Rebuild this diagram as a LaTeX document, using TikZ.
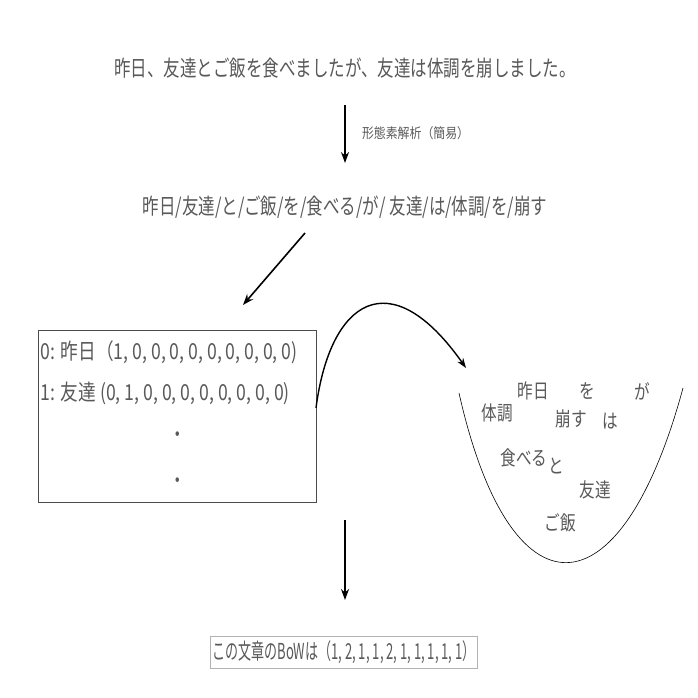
\documentclass[tikz,border=0pt]{standalone}
\usepackage{fontspec}
\setmainfont{Noto Sans CJK JP}
\usetikzlibrary{arrows.meta}
\begin{document}
\begin{tikzpicture}[x=1pt,y=-1pt,
  txt/.style={text=black!65,font=\fontsize{22}{24}\selectfont,inner sep=1pt,xscale=0.75},
  wd/.style={text=black!65,font=\fontsize{20}{22}\selectfont,inner sep=0pt,xscale=0.78},
  arr/.style={-{Stealth[length=11pt,width=8pt]},line width=1.6pt}]
\useasboundingbox (0,0) rectangle (698,698);
\node[txt] (t1) at (345,68) {昨日、友達とご飯を食べましたが、友達は体調を崩しました。};
\coordinate (a1s) at (345,105); \coordinate (a1e) at (345,163);
\draw[arr,line width=1.3pt] (a1s) -- (a1e);
\node[anchor=west,text=black!65,font=\fontsize{14}{16}\selectfont,xscale=0.85,inner sep=1pt] (lab) at (361,133) {形態素解析（簡易）};
\node[txt] (t2) at (345,207) {昨日/友達/と/ご飯/を/食べる/が/ 友達/は/体調/を/崩す};
\coordinate (a2s) at (305,233); \coordinate (a2e) at (243,305);
\draw[arr] (a2s) -- (a2e);
\node[draw,black!70,minimum width=278pt,minimum height=172pt] (box) at (177,416) {};
\node[txt,anchor=west,xscale=1.07] (r0) at (40,352) {0: 昨日（1, 0, 0, 0, 0, 0, 0, 0, 0, 0)};
\node[txt,anchor=west,xscale=1.07] (r1) at (40,393) {1: 友達 (0, 1, 0, 0, 0, 0, 0, 0, 0, 0)};
\node[txt] (d1) at (178,437) {・};
\node[txt] (d2) at (178,483) {・};
\coordinate (cs) at (316,408); \coordinate (ce) at (466,368);
\draw[-{Stealth[length=10pt,width=7pt]},line width=1.4pt] (cs) .. controls (330,300) and (390,260) .. (ce);
\coordinate (p1) at (459,393); \coordinate (p2) at (683,388);
\draw[black,line width=0.6pt] (p1) .. controls (510,620) and (620,620) .. (p2);
\node[wd] (w1) at (497,413) {体調};
\node[wd] (w2) at (533,391) {昨日};
\node[wd] (w3) at (587,391) {を};
\node[wd] (w4) at (642,391) {が};
\node[wd] (w5) at (571,419) {崩す};
\node[wd] (w6) at (610,421) {は};
\node[wd] (w7) at (524,458) {食べる};
\node[wd] (w8) at (556,466) {と};
\node[wd] (w9) at (595,490) {友達};
\node[wd] (w10) at (560,523) {ご飯};
\coordinate (a3s) at (345,520); \coordinate (a3e) at (345,600);
\draw[arr,line width=2.2pt] (a3s) -- (a3e);
\node[draw=black!30,txt,xscale=0.79,minimum height=32pt,inner xsep=3pt] (res) at (344,652) {この文章のBoWは（1, 2, 1, 1, 2, 1, 1, 1, 1, 1）};
\end{tikzpicture}
\end{document}
